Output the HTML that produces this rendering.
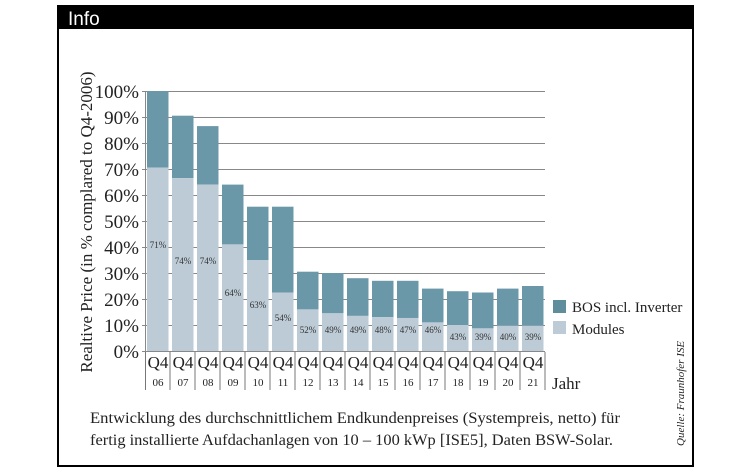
<!DOCTYPE html>
<html><head><meta charset="utf-8"><style>
body{margin:0;background:#fff;width:751px;height:469px;overflow:hidden}
svg{display:block}
.s{font-family:"Liberation Serif","DejaVu Serif",serif;fill:#222}
</style></head><body>
<svg width="751" height="469" viewBox="0 0 751 469">
<rect x="57" y="5" width="637" height="24" fill="#000"/>
<text x="68" y="25" font-family="Liberation Sans, sans-serif" font-size="19" fill="#fff">Info</text>
<rect x="58" y="6" width="635" height="460" fill="none" stroke="#000" stroke-width="2"/>
<g stroke="#888" stroke-width="1">
<line x1="142" y1="91.5" x2="545" y2="91.5"/><line x1="142" y1="117.5" x2="545" y2="117.5"/>
<line x1="142" y1="143.5" x2="545" y2="143.5"/><line x1="142" y1="169.5" x2="545" y2="169.5"/>
<line x1="142" y1="195.5" x2="545" y2="195.5"/><line x1="142" y1="221.5" x2="545" y2="221.5"/>
<line x1="142" y1="247.5" x2="545" y2="247.5"/><line x1="142" y1="273.5" x2="545" y2="273.5"/>
<line x1="142" y1="299.5" x2="545" y2="299.5"/><line x1="142" y1="325.5" x2="545" y2="325.5"/>
<line x1="142" y1="351.5" x2="545" y2="351.5"/>
<line x1="145.5" y1="91" x2="145.5" y2="352"/>
</g>
<g id="bars"></g>
<g class="s" font-size="19" text-anchor="end">
<text x="139" y="98">100%</text><text x="139" y="124">90%</text><text x="139" y="150">80%</text>
<text x="139" y="176">70%</text><text x="139" y="202">60%</text><text x="139" y="228">50%</text>
<text x="139" y="254">40%</text><text x="139" y="280">30%</text><text x="139" y="306">20%</text>
<text x="139" y="332">10%</text><text x="139" y="358">0%</text>
</g>
<text class="s" font-size="17" transform="translate(92,222) rotate(-90)" text-anchor="middle">Realtive Price (in % complared to Q4-2006)</text>
<rect x="553" y="300" width="13" height="13" fill="#5f8d9c"/>
<rect x="553" y="321" width="13" height="13" fill="#bccbd6"/>
<text class="s" x="572" y="312" font-size="15">BOS incl. Inverter</text>
<text class="s" x="572" y="334" font-size="15">Modules</text>
<text class="s" x="552" y="389" font-size="17">Jahr</text>
<text class="s" font-size="16" x="90" y="423" textLength="530" lengthAdjust="spacingAndGlyphs">Entwicklung des durchschnittlichem Endkundenpreises (Systempreis, netto) für</text>
<text class="s" font-size="16" x="90" y="445" textLength="523" lengthAdjust="spacingAndGlyphs">fertig installierte Aufdachanlagen von 10 – 100 kWp [ISE5], Daten BSW-Solar.</text>
<text class="s" font-size="11" font-style="italic" transform="translate(684,446) rotate(-90)">Quelle: Fraunhofer ISE</text>
</svg>
<script>
var d=[[100,70.5,"71%",248],[90.5,66.5,"74%",264],[86.5,64,"74%",264],[64,41,"64%",296],[55.5,35,"63%",308],[55.5,22.5,"54%",321],[30.5,16,"52%",333],[30,14.5,"49%",333],[28,13.5,"49%",333],[27,13,"48%",333],[27,12.7,"47%",333],[24,11,"46%",333],[23,10,"43%",340],[22.5,8.7,"39%",340],[24,9.7,"40%",340],[25,9.7,"39%",340]];
var yrs=["06","07","08","09","10","11","12","13","14","15","16","17","18","19","20","21"];
var g=document.getElementById("bars"),h="";
function Y(v){return 351-v*2.6}
d.forEach(function(b,i){var x=147+i*25;
h+='<rect x="'+x+'" y="'+Y(b[0])+'" width="21.5" height="'+(b[0]-b[1])*2.6+'" fill="#6b98a8"/>';
h+='<rect x="'+x+'" y="'+Y(b[1])+'" width="21.5" height="'+(b[1]*2.6)+'" fill="#bccbd6"/>';
h+='<text x="'+(x+11)+'" y="'+b[3]+'" font-family="Liberation Serif,serif" font-size="9" fill="#333" text-anchor="middle">'+b[2]+'</text>';
h+='<text x="'+(x+11)+'" y="368" font-family="Liberation Serif,serif" font-size="17" fill="#222" text-anchor="middle">Q4</text>';
h+='<text x="'+(x+11)+'" y="386" font-family="Liberation Serif,serif" font-size="11" fill="#222" text-anchor="middle">'+yrs[i]+'</text>';
h+='<line x1="'+(x+23)+'" y1="352" x2="'+(x+23)+'" y2="390" stroke="#777"/>';
});
h+='<line x1="145.5" y1="352" x2="145.5" y2="390" stroke="#777"/>';
g.innerHTML=h;
</script>
</body></html>
